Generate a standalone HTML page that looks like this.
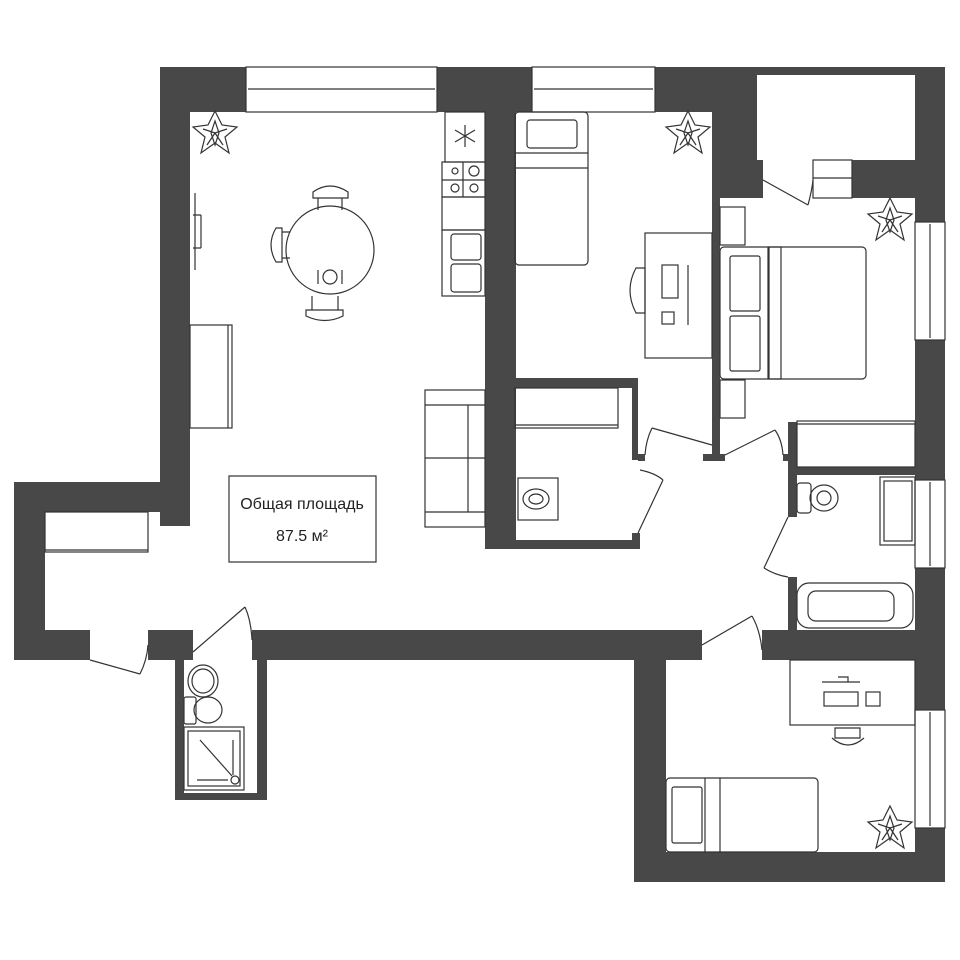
<!DOCTYPE html>
<html><head><meta charset="utf-8"><style>
html,body{margin:0;padding:0;background:#fff;width:960px;height:960px;overflow:hidden}
svg{display:block}
text{font-family:"Liberation Sans","DejaVu Sans",sans-serif}
</style></head><body>
<svg width="960" height="960" viewBox="0 0 960 960" xmlns="http://www.w3.org/2000/svg">
<defs>
<g id="pl" fill="none" stroke="#333" stroke-width="1.2"><path d="M0 -22 L7 -8 L22 -6 L10 4 L14 20 L0 10 L-14 20 L-10 4 L-22 -6 L-7 -8 Z M0 -12 L4 0 L0 12 L-4 0 Z M-12 -4 L0 0 L12 -4 M-8 12 L0 0 L8 12"/></g>
</defs>
<g fill="#484848">
<rect x="160" y="67" width="86" height="45"/>
<rect x="437" y="67" width="95" height="45"/>
<rect x="655" y="67" width="290" height="8"/>
<rect x="655" y="67" width="102" height="45"/>
<rect x="712" y="67" width="45" height="131"/>
<rect x="915" y="67" width="30" height="155"/>
<rect x="852" y="160" width="93" height="38"/>
<rect x="757" y="160" width="6" height="38"/>
<rect x="160" y="67" width="30" height="459"/>
<rect x="14" y="482" width="176" height="30"/>
<rect x="14" y="482" width="31" height="178"/>
<rect x="14" y="630" width="76" height="30"/>
<rect x="148" y="630" width="45" height="30"/>
<rect x="252" y="630" width="450" height="30"/>
<rect x="762" y="630" width="183" height="30"/>
<rect x="485" y="112" width="31" height="437"/>
<rect x="712" y="112" width="8" height="348"/>
<rect x="703" y="454" width="22" height="7"/>
<rect x="515" y="378" width="123" height="10"/>
<rect x="632" y="378" width="6" height="82"/>
<rect x="638" y="454" width="7" height="7"/>
<rect x="632" y="533" width="8" height="16"/>
<rect x="485" y="540" width="155" height="9"/>
<rect x="915" y="340" width="30" height="140"/>
<rect x="915" y="568" width="30" height="142"/>
<rect x="915" y="828" width="30" height="54"/>
<rect x="788" y="422" width="9" height="95"/>
<rect x="788" y="577" width="9" height="53"/>
<rect x="783" y="454" width="6" height="7"/>
<rect x="797" y="467" width="118" height="8"/>
<rect x="175" y="660" width="9" height="140"/>
<rect x="257" y="660" width="10" height="140"/>
<rect x="175" y="793" width="92" height="7"/>
<rect x="634" y="660" width="32" height="222"/>
<rect x="634" y="852" width="311" height="30"/>
</g>
<use href="#pl" x="215" y="133"/><use href="#pl" x="688" y="133"/><use href="#pl" x="890" y="220"/><use href="#pl" x="890" y="828"/>
<g fill="none" stroke="#333" stroke-width="1.2">
<rect x="246" y="67" width="191" height="45"/><line x1="248" y1="89" x2="435" y2="89"/>
<rect x="532" y="67" width="123" height="45"/><line x1="534" y1="89" x2="653" y2="89"/>
<rect x="915" y="222" width="30" height="118"/><line x1="930" y1="224" x2="930" y2="338"/>
<rect x="915" y="480" width="30" height="88"/><line x1="930" y1="482" x2="930" y2="566"/>
<rect x="915" y="710" width="30" height="118"/><line x1="930" y1="712" x2="930" y2="826"/>
<rect x="813" y="160" width="39" height="38"/><line x1="813" y1="178" x2="852" y2="178"/>
<path d="M763 180 L808 205 M808 205 Q812 190 813 180"/>
<path d="M712 445 L652 428 M652 428 Q646 440 645 455"/>
<path d="M725 455 L775 430 M775 430 Q782 440 783 455"/>
<path d="M638 533 L663 480 M663 480 Q655 473 640 470"/>
<path d="M788 517 L764 568 M764 568 Q775 575 788 577"/>
<path d="M702 645 L752 616 M752 616 Q760 630 762 650"/>
<path d="M193 652 L245 607 M245 607 Q251 620 252 640"/>
<path d="M90 660 L140 674 M140 674 Q147 660 148 645"/>
<rect x="445" y="112" width="40" height="50"/>
<path d="M465 125 V147 M455 130 L475 142 M455 142 L475 130"/>
<rect x="442" y="162" width="43" height="35"/><line x1="463" y1="162" x2="463" y2="197"/><line x1="442" y1="180" x2="485" y2="180"/>
<circle cx="455" cy="171" r="3"/><circle cx="474" cy="171" r="5"/><circle cx="455" cy="188" r="4"/><circle cx="474" cy="188" r="4"/>
<rect x="442" y="197" width="43" height="33"/>
<rect x="442" y="230" width="43" height="66"/><rect x="451" y="234" width="30" height="26" rx="3"/><rect x="451" y="264" width="30" height="28" rx="3"/>
<circle cx="330" cy="250" r="44"/>
<path d="M313 192 Q330 180 348 192 L348 198 L313 198 Z M318 198 V210 M342 198 V210"/>
<path d="M276 228 Q266 245 276 262 L282 262 L282 228 Z M282 232 H290 M282 258 H290"/>
<path d="M306 316 Q325 325 343 316 L343 310 L306 310 Z M312 296 V310 M338 296 V310"/>
<circle cx="330" cy="277" r="7"/><path d="M318 270 V284 M342 270 V284"/>
<path d="M195 193 V270 M201 215 V248 M193 215 H201 M193 248 H201"/>
<rect x="190" y="325" width="42" height="103"/><line x1="228" y1="325" x2="228" y2="428"/>
<rect x="425" y="390" width="60" height="137"/><line x1="425" y1="405" x2="485" y2="405"/><line x1="425" y1="512" x2="485" y2="512"/><line x1="468" y1="405" x2="468" y2="512"/><line x1="425" y1="458" x2="485" y2="458"/>
<rect x="45" y="512" width="103" height="40"/><line x1="45" y1="550" x2="148" y2="550"/>
<rect x="229" y="476" width="147" height="86"/>
<rect x="515" y="112" width="73" height="153" rx="4"/><line x1="515" y1="153" x2="588" y2="153"/><line x1="515" y1="168" x2="588" y2="168"/><rect x="527" y="120" width="50" height="28" rx="3"/>
<rect x="645" y="233" width="67" height="125"/>
<path d="M636 268 Q624 290 636 313 L645 313 L645 268 Z"/>
<rect x="662" y="265" width="16" height="33"/><rect x="662" y="312" width="12" height="12"/><path d="M688 265 V325"/>
<rect x="720" y="207" width="25" height="38"/><rect x="720" y="380" width="25" height="38"/>
<rect x="720" y="247" width="146" height="132" rx="4"/><line x1="768" y1="247" x2="768" y2="379"/>
<rect x="769" y="247" width="12" height="132"/>
<rect x="730" y="256" width="30" height="55" rx="2"/><rect x="730" y="316" width="30" height="55" rx="2"/>
<rect x="515" y="388" width="103" height="40"/><line x1="515" y1="425" x2="618" y2="425"/>
<rect x="518" y="478" width="40" height="42"/><ellipse cx="536" cy="499" rx="13" ry="10"/><ellipse cx="536" cy="499" rx="7" ry="5"/>
<rect x="797" y="421" width="118" height="46"/><line x1="797" y1="424" x2="915" y2="424"/>
<rect x="797" y="483" width="14" height="30" rx="3"/><ellipse cx="824" cy="498" rx="14" ry="13"/><ellipse cx="824" cy="498" rx="7" ry="7"/>
<rect x="880" y="477" width="35" height="68"/><rect x="884" y="481" width="28" height="60"/>
<rect x="797" y="583" width="116" height="45" rx="12"/><rect x="808" y="591" width="86" height="30" rx="8"/>
<ellipse cx="203" cy="681" rx="15" ry="16"/><ellipse cx="203" cy="681" rx="11" ry="12"/>
<rect x="184" y="697" width="12" height="27" rx="2"/><ellipse cx="208" cy="710" rx="14" ry="13"/>
<rect x="184" y="727" width="60" height="63"/><rect x="188" y="731" width="52" height="55"/>
<path d="M200 740 L232 776 M233 740 V775 M197 780 H228"/><circle cx="235" cy="780" r="4"/>
<rect x="790" y="660" width="125" height="65"/>
<rect x="824" y="692" width="34" height="14"/><rect x="866" y="692" width="14" height="14"/><path d="M822 682 H860 M838 677 H848 V682"/>
<path d="M835 728 L860 728 L860 738 L835 738 Z M832 738 Q848 752 864 738"/>
<rect x="666" y="778" width="152" height="74" rx="4"/><line x1="705" y1="778" x2="705" y2="852"/><line x1="720" y1="778" x2="720" y2="852"/><rect x="672" y="787" width="30" height="56" rx="2"/>
</g>
<text x="302" y="509" font-size="16" text-anchor="middle" fill="#222">Общая площадь</text>
<text x="302" y="541" font-size="16" text-anchor="middle" fill="#222">87.5 м²</text>
</svg>
</body></html>
